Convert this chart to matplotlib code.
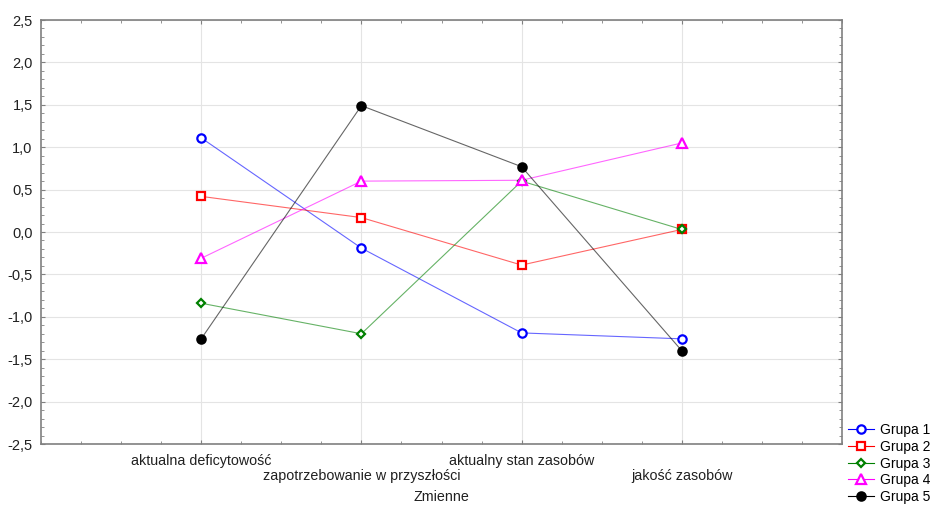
import matplotlib.pyplot as plt
from matplotlib.ticker import FixedLocator, MultipleLocator, FuncFormatter

plt.rcParams['font.family'] = ['Liberation Sans', 'DejaVu Sans']

zmienne = ["aktualna deficytowość", "zapotrzebowanie w przyszłości",
           "aktualny stan zasobów", "jakość zasobów"]

grupa_1 = [1.11, -0.19, -1.19, -1.26]
grupa_2 = [0.42, 0.17, -0.39, 0.03]
grupa_3 = [-0.84, -1.20, 0.60, 0.03]
grupa_4 = [-0.31, 0.60, 0.61, 1.05]
grupa_5 = [-1.26, 1.49, 0.77, -1.40]

series = [
    ("Grupa 1", grupa_1, "#0000ff", "o", "white", 6),
    ("Grupa 2", grupa_2, "#ff0000", "s", "white", 6),
    ("Grupa 3", grupa_3, "#008000", "D", "white", 4.5),
    ("Grupa 4", grupa_4, "#ff00ff", "^", "white", 6.5),
    ("Grupa 5", grupa_5, "#000000", "o", "#000000", 6),
]

fig = plt.figure(figsize=(9.31, 5.05), dpi=100)
ax = fig.add_axes([41 / 931, 1 - 444 / 505, 801 / 931, 424 / 505])

x = list(range(1, len(zmienne) + 1))
for name, vals, color, marker, face, size in series:
    ax.plot(x, vals, color=color, linewidth=0.8, alpha=0.6, zorder=2)
    ax.plot(x, vals, linestyle='none', marker=marker, markersize=size,
            markerfacecolor=face, markeredgecolor=color, markeredgewidth=1.6, zorder=3)
    # legend proxy
    ax.plot([], [], color=color, linewidth=0.8, marker=marker, markersize=size,
            markerfacecolor=face, markeredgecolor=color, markeredgewidth=1.6, label=name)

ax.set_xlim(0, 5)
ax.set_ylim(-2.5, 2.5)
ax.xaxis.set_major_locator(FixedLocator(x))
ax.xaxis.set_minor_locator(MultipleLocator(0.25))
ax.yaxis.set_major_locator(MultipleLocator(0.5))
ax.yaxis.set_minor_locator(MultipleLocator(0.1))
ax.yaxis.set_major_formatter(FuncFormatter(lambda v, p: f"{v:.1f}".replace('.', ',')))
ax.set_xticklabels([])

ax.grid(True, which='major', color='#e4e4e4', linewidth=0.8, zorder=0)
ax.tick_params(which='both', direction='in', top=True, right=True, color='#808080')
ax.tick_params(which='major', length=3)
ax.tick_params(which='minor', length=2)
ax.tick_params(axis='y', labelsize=10.5, pad=6, labelcolor='#202020')
for s in ax.spines.values():
    s.set_color('#808080')
    s.set_linewidth(1.2)

# staggered category labels below the axis (offsets in points)
for i, label in enumerate(zmienne):
    off = -12.2 if i % 2 == 0 else -23
    ax.annotate(label, xy=(x[i], -2.5), xytext=(0, off), textcoords='offset points',
                ha='center', va='center', fontsize=10.3, color='#202020',
                annotation_clip=False)

fig.text(ax.get_position().x0 + ax.get_position().width * 0.5, 1 - 497 / 505, "Zmienne",
         ha='center', va='center', fontsize=10.3, color='#202020')

fig.legend(loc='upper left', bbox_to_anchor=(848 / 931, 1 - 423 / 505), frameon=False,
           fontsize=10, handlelength=1.9, handletextpad=0.4, labelspacing=0.2,
           borderaxespad=0.0, borderpad=0.0)

fig.savefig("out.png", dpi=100)
